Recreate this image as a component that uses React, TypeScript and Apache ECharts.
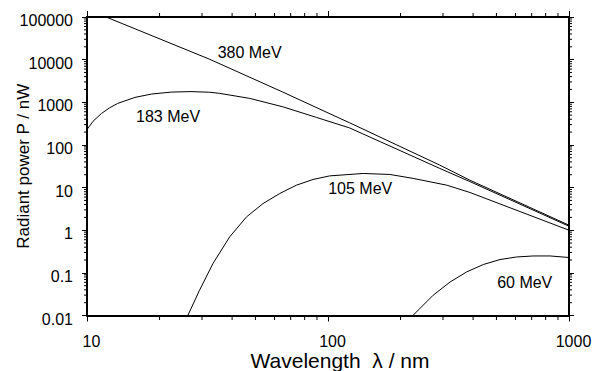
import React, { useEffect, useRef } from "react";
import * as echarts from "echarts";

// ---- axis ticks ----
const xTickLabels = ["10", "100", "1000"]; // 10^1 .. 10^3
const yTickLabels = ["0.01", "0.1", "1", "10", "100", "1000", "10000", "100000"]; // 10^-2 .. 10^5
const xMinorTicks = [20, 30, 40, 50, 60, 70, 80, 90, 200, 300, 400, 500, 600, 700, 800, 900];
const yMinorTicks = [
  0.02, 0.03, 0.04, 0.05, 0.06, 0.07, 0.08, 0.09,
  0.2, 0.3, 0.4, 0.5, 0.6, 0.7, 0.8, 0.9,
  2, 3, 4, 5, 6, 7, 8, 9,
  20, 30, 40, 50, 60, 70, 80, 90,
  200, 300, 400, 500, 600, 700, 800, 900,
  2000, 3000, 4000, 5000, 6000, 7000, 8000, 9000,
  20000, 30000, 40000, 50000, 60000, 70000, 80000, 90000,
];

// ---- series (wavelength nm, power nW) ----
const wl380 = [12, 32.3, 65, 112, 123, 291, 388, 1000];
const p380 = [100000, 10200, 1730, 420, 330, 33.6, 14.9, 1.31];

const wl183 = [10, 10.6, 11.5, 12.4, 13.4, 15.8, 18.5, 22.4, 27, 32.3, 35.5, 47.3, 64.9, 89.5, 123, 291, 388, 1000];
const p183 = [230, 360, 550, 740, 940, 1300, 1560, 1735, 1780, 1720, 1620, 1235, 784, 442, 250, 28.1, 13.8, 1.24];

const wl105 = [26.2, 29.3, 33.3, 39.1, 45.9, 53.8, 63.1, 74, 86.7, 101.7, 140, 180.6, 225.7, 310.7, 388, 1000];
const p105 = [0.01, 0.039, 0.165, 0.7, 2.05, 4.23, 7.27, 11.4, 15.5, 18.8, 21.4, 20.3, 16.4, 11.4, 7.67, 1.0];

const wl60 = [225, 273, 321, 376, 441, 517, 607, 711, 835, 1000];
const p60 = [0.01, 0.0298, 0.061, 0.105, 0.157, 0.205, 0.236, 0.249, 0.249, 0.229];

// ---- curve labels ----
const labelNames = ["380 MeV", "183 MeV", "105 MeV", "60 MeV"];
const labelWavelengths = [47.3, 21.7, 136, 655];
const labelPowers = [15070, 474, 9.5, 0.061];

const FONT = "'Liberation Sans', Arial, Helvetica, sans-serif";
const X_MIN = 10, X_MAX = 1000, Y_MIN = 0.01, Y_MAX = 100000;

function pairs(xs: number[], ys: number[]) {
  return xs.map((x, i) => [x, ys[i]]);
}

export default function App() {
  const ref = useRef<HTMLDivElement>(null);
  useEffect(() => {
    document.body.style.margin = "0";
    if (!ref.current) return;
    const chart = echarts.init(ref.current, null, { renderer: "svg" });

    const lineSeries = (name: string, data: number[][], li: number) => ({
      type: "line",
      name,
      data,
      xAxisIndex: 0,
      yAxisIndex: 0,
      showSymbol: false,
      symbol: "none",
      smooth: false,
      clip: true,
      lineStyle: { color: "#000", width: 1 },
      markPoint: {
        symbol: "circle",
        symbolSize: 1,
        itemStyle: { color: "rgba(0,0,0,0)" },
        label: {
          show: true,
          position: "inside",
          formatter: "{b}",
          fontSize: 16,
          color: "#000",
          fontFamily: FONT,
        },
        data: [{ name: labelNames[li], coord: [labelWavelengths[li], labelPowers[li]] }],
      },
    });

    const axisLine = { show: true, onZero: false, lineStyle: { color: "#000", width: 2 } };

    const option: any = {
      animation: false,
      backgroundColor: "#fff",
      textStyle: { fontFamily: FONT, color: "#000" },
      grid: { left: 87, right: 25, top: 17, bottom: 55.5, containLabel: false, outerBoundsMode: "none" },
      xAxis: [
        {
          type: "log",
          logBase: 10,
          min: X_MIN,
          max: X_MAX,
          position: "bottom",
          axisLine,
          axisTick: { show: true, inside: false, length: 6, lineStyle: { color: "#000", width: 1 } },
          axisLabel: {
            show: true,
            margin: 19.5,
            fontSize: 16,
            lineHeight: 12,
            color: "#000",
            fontFamily: FONT,
            padding: [0, 0, 0, 9],
            showMinLabel: true,
            showMaxLabel: true,
            formatter: (v: number) => xTickLabels[Math.round(Math.log10(v)) - 1] ?? String(v),
          },
          splitLine: { show: false },
          name: "Wavelength  λ / nm",
          nameLocation: "middle",
          nameGap: 37,
          nameMoveOverlap: false,
          nameTextStyle: { fontSize: 21, lineHeight: 16, color: "#000", fontFamily: FONT, padding: [0, 0, 0, 24] },
        },
        {
          type: "log",
          logBase: 10,
          min: X_MIN,
          max: X_MAX,
          position: "top",
          axisLine,
          axisTick: { show: true, inside: false, length: 6, lineStyle: { color: "#000", width: 1 } },
          axisLabel: { show: false },
          splitLine: { show: false },
        },
      ],
      yAxis: [
        {
          type: "log",
          logBase: 10,
          min: Y_MIN,
          max: Y_MAX,
          position: "left",
          axisLine,
          axisTick: { show: true, inside: false, length: 5, lineStyle: { color: "#000", width: 1 } },
          axisLabel: {
            show: true,
            margin: 14,
            fontSize: 16,
            lineHeight: 7,
            verticalAlign: "top",
            color: "#000",
            fontFamily: FONT,
            showMinLabel: true,
            showMaxLabel: true,
            formatter: (v: number) => yTickLabels[Math.round(Math.log10(v)) + 2] ?? String(v),
          },
          splitLine: { show: false },
          name: "Radiant power P / nW",
          nameLocation: "middle",
          nameGap: 55,
          nameMoveOverlap: false,
          nameTextStyle: { fontSize: 17, color: "#000", fontFamily: FONT },
        },
        {
          type: "log",
          logBase: 10,
          min: Y_MIN,
          max: Y_MAX,
          position: "right",
          axisLine,
          axisTick: { show: true, inside: false, length: 5, lineStyle: { color: "#000", width: 1 } },
          axisLabel: { show: false },
          splitLine: { show: false },
        },
      ],
      series: [
        lineSeries("380 MeV", pairs(wl380, p380), 0),
        lineSeries("183 MeV", pairs(wl183, p183), 1),
        lineSeries("105 MeV", pairs(wl105, p105), 2),
        lineSeries("60 MeV", pairs(wl60, p60), 3),
      ],
    };
    chart.setOption(option);

    // minor ticks, positioned through the chart's own log scales
    const px = (x: number, y: number): number[] | null => {
      let p: any = null;
      try {
        p = chart.convertToPixel({ xAxisIndex: 0, yAxisIndex: 0 }, [x, y]);
      } catch (e) {
        p = null;
      }
      return p && isFinite(p[0]) && isFinite(p[1]) ? p : null;
    };
    const tick = (x1: number, y1: number, x2: number, y2: number) => ({
      type: "line",
      silent: true,
      z: 10,
      shape: { x1, y1, x2, y2 },
      style: { stroke: "#000", lineWidth: 1 },
    });
    const els: any[] = [];
    xMinorTicks.forEach((v) => {
      const b = px(v, Y_MIN);
      const t = px(v, Y_MAX);
      if (b && t) {
        els.push(tick(b[0], b[1], b[0], b[1] + 4.5));
        els.push(tick(t[0], t[1], t[0], t[1] - 4));
      }
    });
    yMinorTicks.forEach((v) => {
      const l = px(X_MIN, v);
      const r = px(X_MAX, v);
      if (l && r) {
        els.push(tick(l[0], l[1], l[0] - 3, l[1]));
        els.push(tick(r[0], r[1], r[0] + 3, r[1]));
      }
    });
    chart.setOption({ graphic: { elements: els } });

    return () => chart.dispose();
  }, []);
  return <div ref={ref} style={{ width: 594, height: 371 }} />;
}
